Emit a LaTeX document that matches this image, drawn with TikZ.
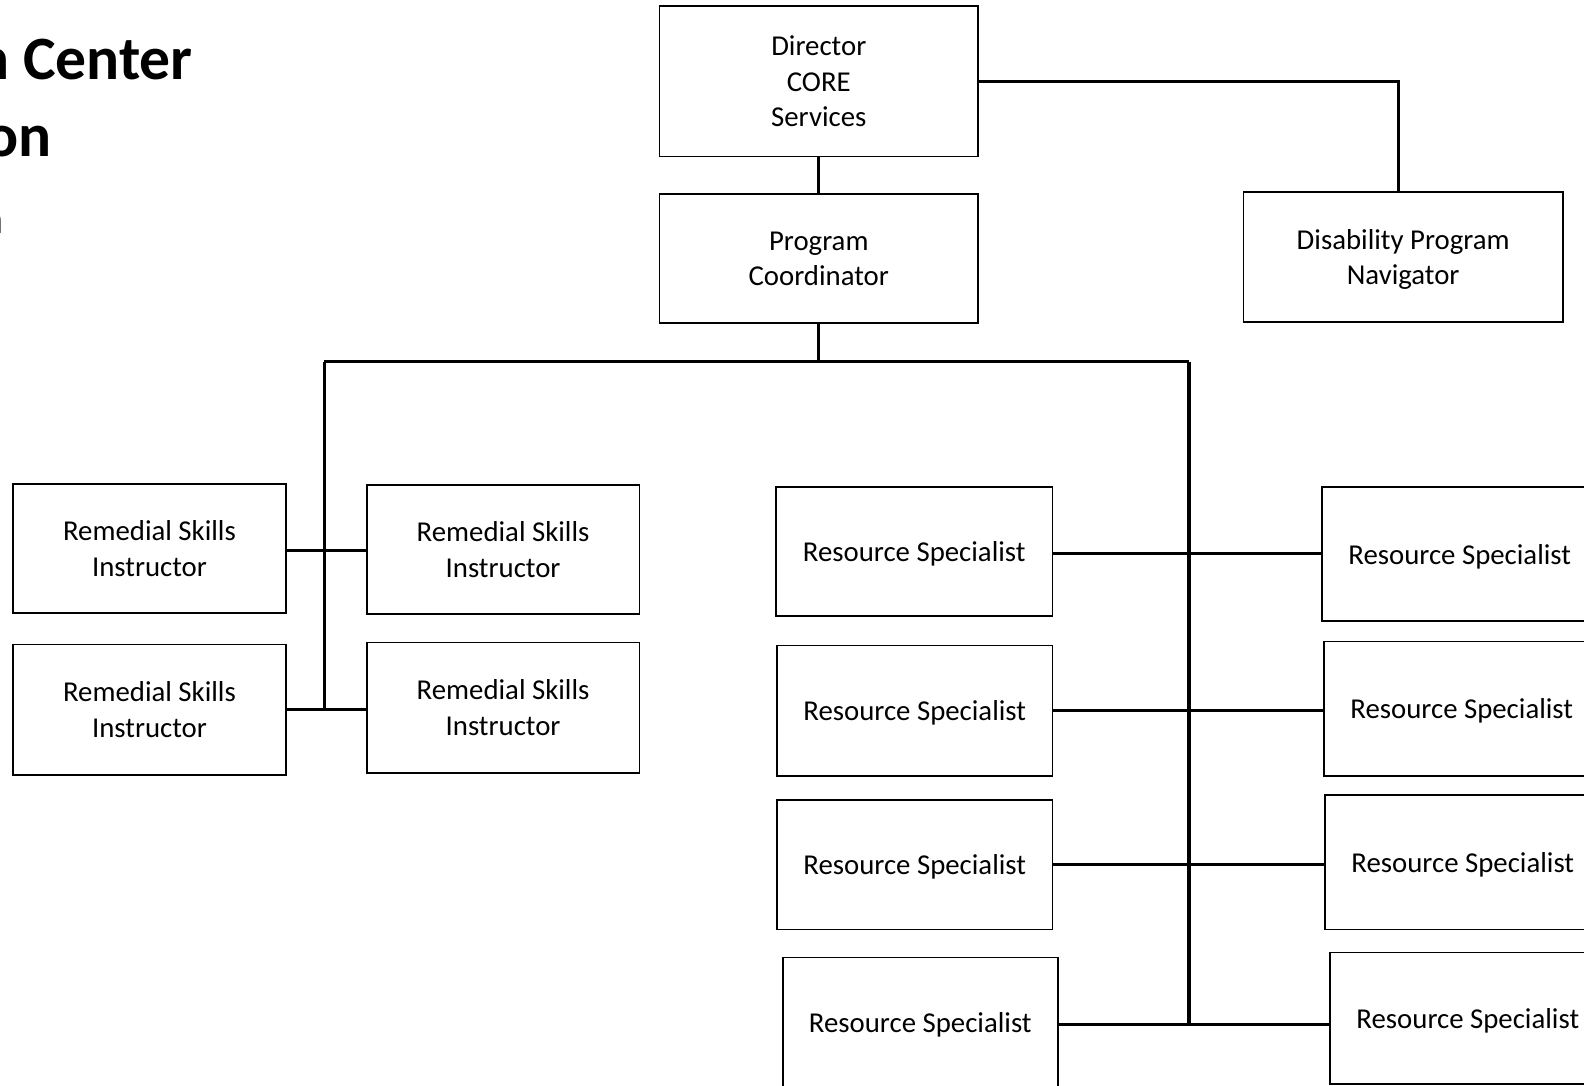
\documentclass[tikz,border=0pt]{standalone}
\usepackage{fontspec}
\setmainfont{Carlito}
\usetikzlibrary{calc}

\newcommand\textocaja{\fontsize{28.5}{35}\selectfont}
\newcommand\textotitulo{\fontsize{61}{77}\selectfont\bfseries}

\tikzset{
  caja/.style={draw, line width=1.6pt, align=center, inner sep=0pt, outer sep=0pt,
    minimum width=273pt, minimum height=128pt, text depth=0pt, font=\textocaja},
  linea/.style={line width=3.2pt}
}

\begin{document}
\begin{tikzpicture}[x=1pt, y=-1pt]
\useasboundingbox (0,0) rectangle (1568,1075);

%Titulo
\node[anchor=base east, inner sep=0pt, font=\textotitulo] (tit1) at (191,79) {n Center};
\node[anchor=base east, inner sep=0pt, font=\textotitulo] (tit2) at (51,155) {on};
\node[anchor=base east, inner sep=0pt, font=\fontsize{42}{50}\selectfont\bfseries] (tit3) at (3,231) {n};

%Direccion
\node[caja, minimum width=315pt, minimum height=149pt] (dir) at (810.5,80.5) {Director\\CORE\\Services};
\node[caja, minimum width=315pt] (pc) at (810.5,256) {Program\\Coordinator};
\node[caja, minimum width=316pt, minimum height=129pt] (nav) at (1389,254.5) {Disability Program\\Navigator};

%Instructores
\node[caja, minimum width=270pt] (rsi1) at (148,543) {Remedial Skills\\Instructor};
\node[caja, minimum width=270pt] (rsi2) at (498,544) {Remedial Skills\\Instructor};
\node[caja, minimum width=270pt, minimum height=129pt] (rsi3) at (148,702.5) {Remedial Skills\\Instructor};
\node[caja, minimum width=270pt, minimum height=129pt] (rsi4) at (498,700.5) {Remedial Skills\\Instructor};

%Especialistas
\node[caja, minimum width=274pt] (rsl1) at (905,546) {Resource Specialist};
\node[caja, minimum height=129pt] (rsl2) at (905.5,703.5) {Resource Specialist};
\node[caja] (rsl3) at (905.5,856) {Resource Specialist};
\node[caja, minimum width=272pt] (rsl4) at (911,1012) {Resource Specialist};
\node[caja, minimum height=133pt] (rsr1) at (1445,548.5) {Resource Specialist};
\node[caja, minimum height=133pt] (rsr2) at (1447,701.5) {Resource Specialist};
\node[caja, minimum height=133pt] (rsr3) at (1448,853.5) {Resource Specialist};
\node[caja, minimum height=130pt] (rsr4) at (1453,1008) {Resource Specialist};

%Lineas
\coordinate (busL) at (321,358);
\coordinate (busR) at (1177,358);
\draw[linea] (dir.east) -| ([xshift=-5pt]nav.north);
\draw[linea] (dir.south) -- (pc.north);
\draw[linea] (pc.south) -- (pc.south |- busL);
\draw[linea] (busL) -- (busR);
\draw[linea] (busL) -- (busL |- rsi3.east);
\draw[linea] (busR) -- ($(busR |- rsl4.east)+(0,2)$);
\draw[linea] ([yshift=-2pt]rsi1.east) -- ([yshift=-2pt]rsi1.east -| rsi2.west);
\draw[linea] (rsi3.east) -- (rsi3.east -| rsi4.west);
\draw[linea] ([yshift=-2pt]rsl1.east) -- ([yshift=-2pt]rsl1.east -| rsr1.west);
\draw[linea] (rsl2.east) -- (rsl2.east -| rsr2.west);
\draw[linea] (rsl3.east) -- (rsl3.east -| rsr3.west);
\draw[linea] ($(rsl4.east)+(0,2)$) -- ($(rsl4.east -| rsr4.west)+(0,2)$);
\end{tikzpicture}
\end{document}
